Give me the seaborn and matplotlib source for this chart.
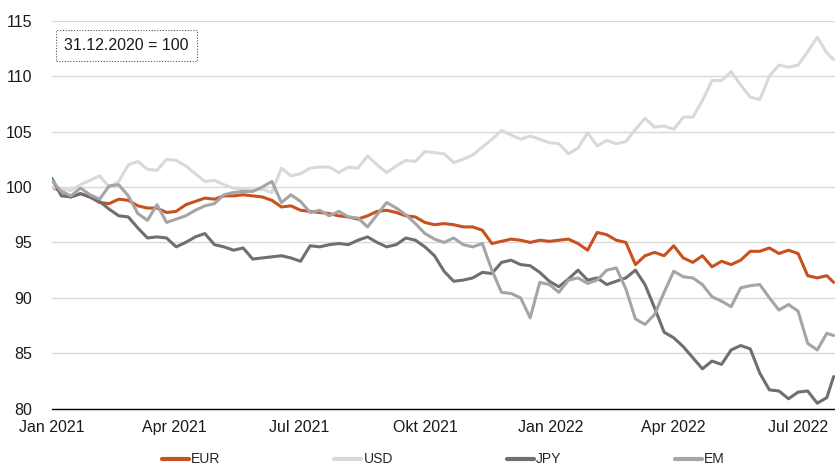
import numpy as np
import pandas as pd
import matplotlib
matplotlib.use("Agg")
import matplotlib.pyplot as plt
import seaborn as sns

# ---- data (weekly readings, index 31.12.2020 = 100) ----
start_date = "2021-01-01"
end_date = "2022-07-27"

usd = [100.0, 99.8, 99.7, 100.2, 100.6, 101.0, 100.0, 100.5, 102.0, 102.3, 101.6,
       101.5, 102.5, 102.4, 101.9, 101.2, 100.5, 100.6, 100.2, 99.9, 99.8,
       99.7, 99.8, 99.5, 101.7, 101.0, 101.2, 101.7, 101.8, 101.8, 101.3,
       101.8, 101.7, 102.8, 102.0, 101.3, 101.9, 102.4, 102.3, 103.2, 103.1,
       103.0, 102.2, 102.5, 102.9, 103.6, 104.3, 105.1, 104.7, 104.3, 104.6,
       104.3, 104.0, 103.9, 103.0, 103.5, 104.9, 103.7, 104.2, 103.9, 104.1,
       105.2, 106.2, 105.4, 105.5, 105.2, 106.3, 106.3, 107.8, 109.6, 109.6,
       110.4, 109.2, 108.1, 107.9, 110.0, 111.0, 110.8, 111.0, 112.2, 113.5,
       112.1, 111.5]

eur = [100.0, 99.6, 99.1, 99.4, 99.1, 98.6, 98.5, 98.9, 98.8, 98.3, 98.1,
       98.1, 97.7, 97.8, 98.4, 98.7, 99.0, 98.9, 99.2, 99.2, 99.3,
       99.2, 99.1, 98.8, 98.2, 98.3, 97.9, 97.8, 97.7, 97.6, 97.4,
       97.3, 97.1, 97.4, 97.8, 97.9, 97.7, 97.4, 97.3, 96.8, 96.6,
       96.7, 96.6, 96.4, 96.4, 96.1, 94.9, 95.1, 95.3, 95.2, 95.0,
       95.2, 95.1, 95.2, 95.3, 94.9, 94.3, 95.9, 95.7, 95.2, 95.0,
       93.0, 93.8, 94.1, 93.8, 94.7, 93.6, 93.2, 93.8, 92.8, 93.3,
       93.0, 93.4, 94.2, 94.2, 94.5, 94.0, 94.3, 94.0, 92.0, 91.8,
       92.0, 91.4]

jpy = [100.8, 99.2, 99.1, 99.4, 99.1, 98.7, 98.0, 97.4, 97.3, 96.3, 95.4,
       95.5, 95.4, 94.6, 95.0, 95.5, 95.8, 94.8, 94.6, 94.3, 94.5,
       93.5, 93.6, 93.7, 93.8, 93.6, 93.3, 94.7, 94.6, 94.8, 94.9,
       94.8, 95.2, 95.5, 95.0, 94.6, 94.8, 95.4, 95.2, 94.6, 93.8,
       92.4, 91.5, 91.6, 91.8, 92.3, 92.2, 93.2, 93.4, 93.0, 92.9,
       92.3, 91.5, 91.0, 91.7, 92.5, 91.6, 91.8, 91.2, 91.5, 91.8,
       92.5, 91.2, 89.1, 86.9, 86.4, 85.6, 84.6, 83.6, 84.3, 84.0,
       85.3, 85.7, 85.4, 83.2, 81.7, 81.6, 80.9, 81.5, 81.6, 80.5,
       81.0, 82.9]

em = [100.6, 99.6, 99.2, 99.9, 99.3, 98.9, 100.1, 100.2, 99.2, 97.6, 97.0,
      98.4, 96.8, 97.1, 97.4, 97.9, 98.3, 98.5, 99.3, 99.5, 99.6,
      99.6, 100.0, 100.5, 98.6, 99.3, 98.7, 97.7, 97.9, 97.4, 97.8,
      97.3, 97.2, 96.4, 97.5, 98.6, 98.1, 97.5, 96.7, 95.8, 95.3,
      95.0, 95.4, 94.8, 94.6, 94.9, 92.5, 90.5, 90.4, 90.0, 88.2,
      91.4, 91.2, 90.5, 91.6, 91.8, 91.3, 91.6, 92.5, 92.7, 90.8,
      88.1, 87.6, 88.5, 90.5, 92.4, 91.9, 91.8, 91.2, 90.1, 89.7,
      89.2, 90.9, 91.1, 91.2, 90.0, 88.9, 89.4, 88.8, 85.9, 85.3,
      86.8, 86.6]

series_names = ["EUR", "USD", "JPY", "EM"]
series_colors = ["#C8511F", "#D9D9D9", "#6F6F6F", "#A5A5A5"]
tick_labels = ["Jan 2021", "Apr 2021", "Jul 2021", "Okt 2021",
               "Jan 2022", "Apr 2022", "Jul 2022"]
tick_dates = ["2021-01-01", "2021-04-01", "2021-07-01", "2021-10-01",
              "2022-01-01", "2022-04-01", "2022-07-01"]
y_ticks = [80, 85, 90, 95, 100, 105, 110, 115]
note_text = "31.12.2020 = 100"

# ---- build table ----
dates = [pd.Timestamp(start_date)] + list(
    pd.date_range("2021-01-08", periods=len(usd) - 2, freq="7D")) + [pd.Timestamp(end_date)]
wide = pd.DataFrame({"Datum": dates, "EUR": eur, "USD": usd, "JPY": jpy, "EM": em})
long = wide.melt(id_vars="Datum", var_name="Währung", value_name="Index")

sns.set_style("white")
plt.rcParams["font.family"] = ["Liberation Sans", "DejaVu Sans"]

fig = plt.figure(figsize=(8.35, 4.65), dpi=100)
ax = fig.add_axes([0.062, 0.121, 0.938, 0.8345])

palette = dict(zip(series_names, series_colors))
sns.lineplot(data=long, x="Datum", y="Index", hue="Währung",
             hue_order=series_names, palette=palette, linewidth=2.2,
             ax=ax, legend=True)

ax.set_xlim(pd.Timestamp("2021-01-01"), pd.Timestamp("2022-07-28"))
ax.set_ylim(80, 115)
ax.set_yticks(y_ticks)
ax.set_yticklabels([str(v) for v in y_ticks], fontsize=11.5, color="#1a1a1a")
ax.set_xticks([pd.Timestamp(d) for d in tick_dates])
ax.set_xticklabels(tick_labels, fontsize=11.5, color="#1a1a1a")
ax.tick_params(axis="y", length=0, pad=14)
ax.tick_params(axis="x", length=5, width=1, color="black", direction="out", pad=3)
ax.yaxis.grid(True, color="#D9D9D9", linewidth=1)
ax.xaxis.grid(False)
ax.set_axisbelow(True)
for s in ["left", "right", "top"]:
    ax.spines[s].set_visible(False)
ax.spines["bottom"].set_color("black")
ax.spines["bottom"].set_linewidth(1)
ax.set_xlabel("")
ax.set_ylabel("")

ax.text(0.016, 0.937, note_text, transform=ax.transAxes, fontsize=11.5,
        color="#1a1a1a", va="center", ha="left",
        bbox=dict(boxstyle="square,pad=0.5", fc="white", ec="#555555",
                  lw=0.8, linestyle=(0, (1, 1.5))))

handles, labels = ax.get_legend_handles_labels()
ax.get_legend().remove()
for h in handles:
    h.set_linewidth(3)
fig.legend(handles, labels, loc="center", bbox_to_anchor=(0.531, 0.012),
           ncol=4, frameon=False, fontsize=10, handlelength=1.95,
           handletextpad=0.15, columnspacing=8.2)

fig.savefig("out.png", dpi=100)
